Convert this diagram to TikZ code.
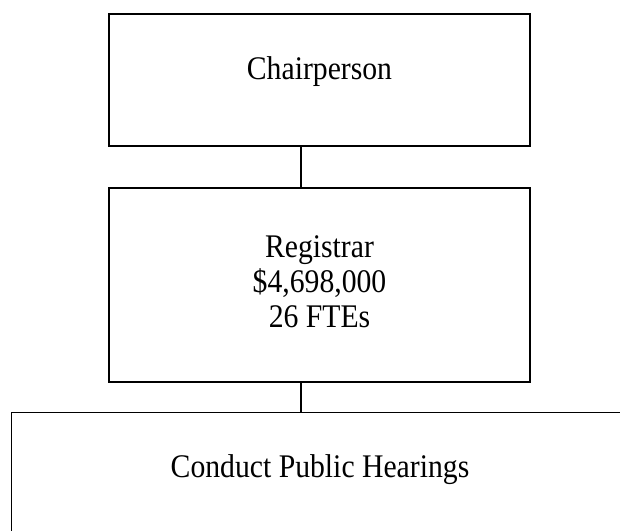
\documentclass[tikz,border=0pt]{standalone}
\usepackage{fontspec}
\setmainfont{Liberation Serif}[FakeStretch=0.9]
\usetikzlibrary{positioning}
\tikzset{
  org box/.style={draw=black, line width=1.3pt, fill=white, inner sep=0pt},
  org text/.style={font=\fontsize{33}{35}\selectfont, align=center, inner sep=0pt},
  org link/.style={draw=black, line width=1.3pt}
}

\begin{document}
\begin{tikzpicture}[x=1pt, y=-1pt]
  \useasboundingbox (0,0) rectangle (620,530);
  \clip (0,0) rectangle (620,530);
  \coordinate (spine) at (301,0);
  \node[org box, minimum width=421pt, minimum height=132pt] (chair) at (319.5,80) {};
  \node[org box, minimum width=421pt, minimum height=194pt] (reg) at (319.5,285) {};
  \node[org box, minimum width=640pt, minimum height=150pt, anchor=north west] (hear) at (11,412) {};
  \node[org text] (chairtxt) at (319.5,72) {Chairperson};
  \node[org text] (regtxt) at (319.5,282) {Registrar\\\$4,698,000\\26 FTEs};
  \node[org text] (heartxt) at (320,470) {Conduct Public Hearings};
  \draw[org link] (chair.south -| spine) -- (reg.north -| spine);
  \draw[org link] (reg.south -| spine) -- (hear.north -| spine);
\end{tikzpicture}
\end{document}
